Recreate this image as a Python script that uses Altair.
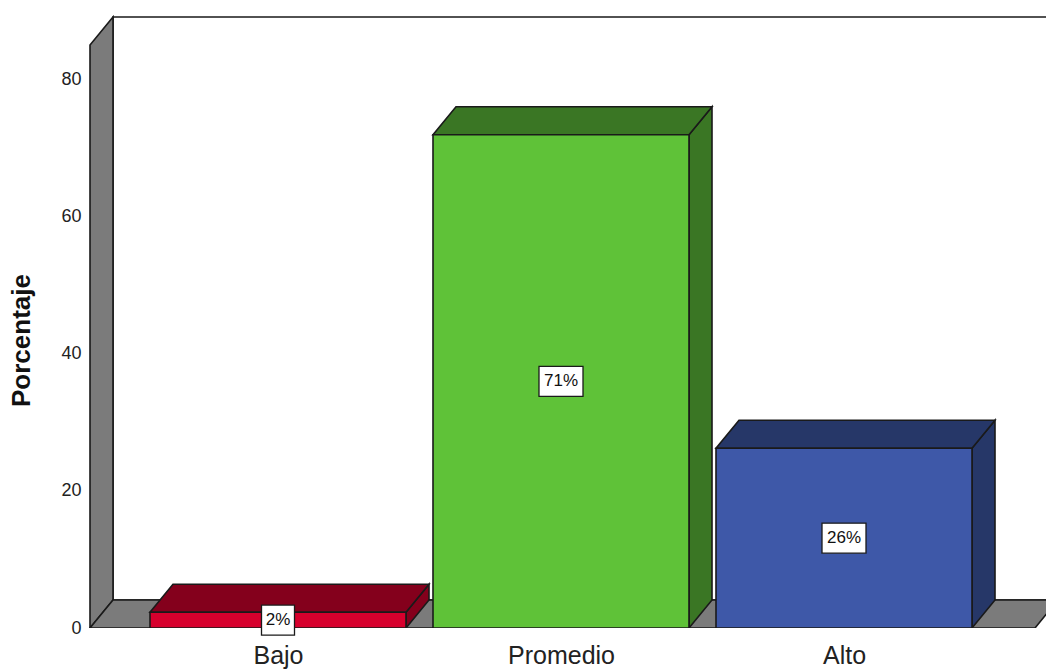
import altair as alt
import pandas as pd

# ---- data ----
categories = ["Bajo", "Promedio", "Alto"]
values = [2.3, 71.9, 26.2]
labels = ["2%", "71%", "26%"]
y_ticks = [0, 20, 40, 60, 80]

# ---- styles ----
front_colors = ["#d7002d", "#5fc238", "#3e58a8"]
dark_colors = ["#84001c", "#3a7624", "#263768"]
WALL = "#7b7b7b"
EDGE = "#1a1a1a"
FONT = "Liberation Sans"

# ---- geometry (pseudo-3D) ----
PX_X = 283.0          # px per category step
PX_Y = 6.86           # px per percentage point
HALF = 0.4523         # half bar width, category units
DX = 23 / PX_X        # depth offset, x units
DY = 28 / PX_Y        # depth offset, y units
XL = (90 - 278) / PX_X
XR = (1035 - 278) / PX_X
TOP = (628 - 17) / PX_Y
PLOT_LEFT, PLOT_TOP, PLOT_BOTTOM = 86, 14, 628
X_MIN = (PLOT_LEFT - 278) / PX_X
WIDTH = 1046 - PLOT_LEFT
X_MAX = X_MIN + WIDTH / PX_X
HEIGHT = PLOT_BOTTOM - PLOT_TOP
Y_MAX = HEIGHT / PX_Y

rows = []


def add(kind, face, fill, pts):
    for k, (x, y, y2) in enumerate(pts):
        rows.append(dict(kind=kind, face=face, fill=fill, x=x, y=y, y2=y2, k=k))


add("back", "back", "white", [(XL + DX, DY, TOP), (XR + DX + 0.5, DY, TOP)])
add("left", "left", WALL, [(XL, 0, TOP - DY), (XL + DX, DY, TOP)])
add("floor", "floor", WALL, [(XL, 0, 0), (XL + DX, 0, DY), (XR, 0, DY), (XR + DX, DY, DY)])
for i, (cat, v) in enumerate(zip(categories, values)):
    c = float(i)
    add("side", cat + "_side", dark_colors[i],
        [(c + HALF, 0, v), (c + HALF + DX, DY, v + DY)])
    add("top", cat + "_top", dark_colors[i],
        [(c - HALF, v, v), (c - HALF + DX, v, v + DY), (c + HALF, v, v + DY), (c + HALF + DX, v + DY, v + DY)])
    add("front", cat + "_front", front_colors[i],
        [(c - HALF, 0, v), (c + HALF, 0, v)])

df = pd.DataFrame(rows)
lab_df = pd.DataFrame({"x": [float(i) for i in range(len(categories))],
                       "y": [v / 2 for v in values],
                       "label": labels})

label_expr = "[" + ",".join("'%s'" % c for c in categories) + "][datum.value]"

X = alt.X("x:Q",
          scale=alt.Scale(domain=[X_MIN, X_MAX], nice=False, zero=False),
          axis=alt.Axis(values=list(range(len(categories))), labelExpr=label_expr,
                        ticks=False, domain=False, grid=False, title=None,
                        labelFontSize=25, labelFont=FONT, labelColor="#222222",
                        labelPadding=15, labelOverlap=False, labelFlush=False))
Y = alt.Y("y:Q", stack=None,
          scale=alt.Scale(domain=[0, Y_MAX], nice=False, zero=False),
          axis=alt.Axis(values=y_ticks, ticks=False, domain=False, grid=False,
                        labelFontSize=18, labelFont=FONT, labelColor="#222222",
                        labelPadding=5, title="Porcentaje", titleFontSize=26,
                        titleFont=FONT, titleFontWeight="bold", titleColor="#111111",
                        titleX=-52, titleY=326, titleAngle=-90, titleBaseline="bottom"))

base = alt.Chart(df).encode(
    x=X, y=Y, y2="y2:Q",
    detail="face:N",
    fill=alt.Fill("fill:N", scale=None),
)


def faces(kind):
    return base.transform_filter(alt.datum.kind == kind).mark_area(
        stroke=EDGE, strokeWidth=1.6, clip=True, interpolate="linear", opacity=1)


boxes = alt.Chart(lab_df).transform_calculate(
    w="(5.5*length(datum.label)+5.5)/15"
).transform_calculate(
    shape="'M' + (-datum.w) + ',-1H' + datum.w + 'V1H' + (-datum.w) + 'Z'"
).mark_point(filled=True, fill="white", stroke=EDGE, strokeWidth=1.3, opacity=1, size=900).encode(
    x=X, y=Y, shape=alt.Shape("shape:N", scale=None)
)

texts = alt.Chart(lab_df).mark_text(
    fontSize=17, font=FONT, color="#111111", baseline="middle", align="center"
).encode(x=X, y=Y, text="label:N")

chart = alt.layer(
    faces("back"), faces("left"), faces("floor"),
    faces("side"), faces("top"), faces("front"),
    boxes, texts,
).properties(
    width=WIDTH, height=HEIGHT,
    padding={"left": PLOT_LEFT, "top": PLOT_TOP, "right": 0, "bottom": 669 - PLOT_BOTTOM},
    autosize=alt.AutoSizeParams(type="none"),
    background="white",
).configure_view(strokeWidth=0)

chart.save("out.html", embed_options={"renderer": "svg", "actions": False})
